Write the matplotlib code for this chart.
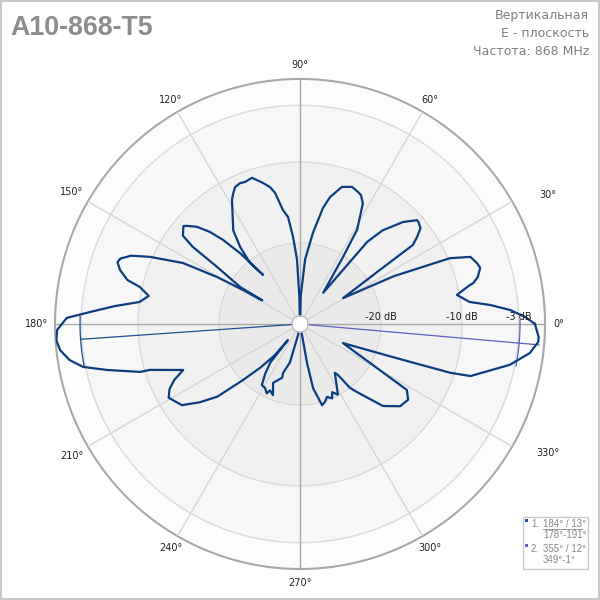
import numpy as np
import matplotlib.pyplot as plt
from matplotlib.patches import Rectangle
from matplotlib.lines import Line2D
import matplotlib.transforms as mtransforms

# диаграмма направленности: угол (град) и уровень (дБ), в порядке обхода контура
angles = [0.0, 1.8, 3.8, 5.7, 7.4, 10.5,
          12.9, 13.3, 14.8, 17.3, 19.0, 21.5, 23.7, 27.0, 31.0,
          34.0, 35.0, 36.6, 38.5, 40.8, 41.6, 44.7, 48.6, 50.7, 53.4,
          57.3, 58.8, 60.7, 62.5, 64.7, 66.3, 69.2, 73.0, 76.7, 78.8, 81.9, 85.5, 88.5, 90.0,
          91.5, 92.7, 94.6, 96.4, 98.5, 100.8, 102.4, 104.7, 108.2, 111.2, 113.1, 115.4,
          117.1, 118.7, 121.0, 125.5, 127.9, 129.3, 127.0,
          130.2, 132.5, 134.4, 136.7, 139.1, 140.0, 143.0, 144.3, 145.5, 148.3, 148.0,
          149.2, 150.5, 152.5, 155.9, 158.0, 160.0, 161.3, 163.3, 165.7, 167.0, 169.5,
          172.2, 174.5, 176.7, 178.5, 181.4, 183.8, 186.2, 188.9, 191.2, 193.4, 196.7,
          197.0, 201.5, 204.0, 206.5, 209.3, 214.5, 218.0, 221.3, 224.5, 227.7, 231.0, 233.0,
          232.4, 235.0, 238.0, 241.3, 244.4, 245.6, 249.2, 245.4, 251.6, 250.9, 255.3, 259.7, 270.0,
          280.2, 281.5, 285.2, 287.8, 290.3, 293.4, 295.2, 298.2, 305.5, 306.7, 308.0, 310.0,
          315.3, 320.6, 325.0, 328.3, 336.0, 340.5, 342.0, 343.0, 349.0, 352.8, 355.7, 356.9, 360.0]
levels = [-1.0, -2.2, -4.0, -6.4, -8.9, -10.3,
          -8.5, -8.0, -7.3, -6.7, -6.9, -7.4, -9.8, -17.0, -23.8,
          -18.4, -13.0, -12.0, -11.0, -10.7, -10.7, -12.1, -14.6, -16.9, -25.2,
          -20.2, -16.4, -14.9, -13.2, -12.4, -12.2, -11.9, -12.3, -13.9, -15.4, -18.6, -22.0, -26.5, -30.0,
          -26.5, -22.0, -19.2, -16.7, -15.8, -13.5, -12.7, -12.0, -11.0, -11.2, -11.1, -11.3,
          -11.9, -12.5, -13.8, -15.8, -18.0, -20.3, -22.4,
          -18.6, -15.9, -14.1, -12.5, -11.5, -11.2, -11.9, -13.7, -17.6, -21.3, -24.5,
          -21.8, -18.2, -13.7, -9.7, -7.5, -6.4, -6.2, -6.8, -8.0, -9.7, -11.0,
          -10.0, -7.0, -4.1, -1.2, 0.0, 0.15, -0.2, -1.2, -2.7, -5.5, -9.4,
          -10.6, -14.5, -13.0, -12.0, -11.4, -12.3, -14.3, -16.4, -20.1, -22.7, -25.0, -27.5,
          -24.0, -22.5, -21.1, -21.0, -20.5, -21.0, -20.6, -22.0, -23.0, -23.6, -25.1, -28.6, -30.0,
          -25.1, -21.9, -19.6, -19.9, -20.4, -20.0, -20.7, -20.1, -22.6, -22.1, -20.0, -19.0,
          -15.6, -14.0, -13.7, -14.5, -24.2, -17.4, -10.5, -8.0, -3.6, -1.4, -0.5, -0.5, -1.0]

# уровни колец (дБ)
rings = [-3, -10, -20]
ring_labels = ['-3 dB', '-10 dB', '-20 dB']
angle_ticks = [0, 30, 60, 90, 120, 150, 180, 210, 240, 270, 300, 330]

# ширина луча по уровню -3 дБ
beam_dirs = [184, 355]
beam_peak = [-2.84, -0.4]
beam_from = [178, 349]
beam_to = [191, 361]
beam_colors = ['#1d4f91', '#5b5fc0']
legend_main = ['184° / 13°', '355° / 12°']
legend_range = ['178°-191°', '349°-1°']

R_MIN, R_MAX = -30, 0.25

fig = plt.figure(figsize=(6, 6), dpi=100)
fig.patch.set_facecolor('white')
ax = fig.add_axes([0.0917, 0.0517, 0.8167, 0.8167], projection='polar')
ax.set_ylim(R_MIN, R_MAX)
ax.set_xticks([])
ax.set_yticks([])
ax.grid(False)
ax.spines['polar'].set_visible(False)
ax.patch.set_alpha(0)

th = np.linspace(0, 2 * np.pi, 721)

# заливка колец
bands = [(R_MAX, -3, '#fcfcfc'), (-3, -10, '#f7f7f7'), (-10, -20, '#f1f1f1'), (-20, R_MIN, '#eaeaea')]
for hi, lo, c in bands:
    ax.fill_between(th, lo, hi, color=c, lw=0, zorder=0)

for r in rings:
    ax.plot(th, np.full_like(th, r), color='#dadada', lw=1, zorder=1)
ax.plot(th, np.full_like(th, R_MAX), color='#a8a8a8', lw=1.5, zorder=1, clip_on=False)

# радиальные линии
for a in angle_ticks:
    c = '#a9a9a9' if a % 90 == 0 else '#d6d6d6'
    ax.plot([np.deg2rad(a)] * 2, [R_MIN, R_MAX], color=c, lw=1, zorder=1)

# подписи углов
for a in angle_ticks:
    la = a
    rl = 1.7
    if a in (30, 330):
        la = a - 2.5 if a == 30 else a + 2.5
        rl = 4.3
    elif a in (150, 180, 210):
        rl = 2.3
    ax.text(np.deg2rad(la), R_MAX + rl, f'{a}°', ha='center', va='center',
            fontsize=7, color='#222222', clip_on=False)

# подписи уровней
off = mtransforms.offset_copy(ax.transData, fig=fig, x=0, y=2, units='dots')
for r, s in zip(rings, ring_labels):
    ax.text(0, r, s, ha='center', va='bottom', fontsize=7, color='#222222',
            transform=off, zorder=5)

# центр
ax.fill_between(th, R_MIN, -29.0, color='white', lw=0, zorder=6)
ax.plot(th, np.full_like(th, -29.0), color='#bcbcbc', lw=1, zorder=6)

# маркеры -3 дБ
for d, pk, a0, a1, c in zip(beam_dirs, beam_peak, beam_from, beam_to, beam_colors):
    ax.plot([np.deg2rad(d)] * 2, [R_MIN, pk], color=c, lw=0.9, zorder=3)
    arc = np.deg2rad(np.linspace(a0, a1, 50))
    ax.plot(arc, np.full_like(arc, -2.84), color=c, lw=0.9, zorder=3)

# диаграмма
ax.plot(np.deg2rad(angles), levels, color='#0b3d7f', lw=1.6, zorder=4)

# заголовки
def px(x):
    return x / 600

def py(y):
    return 1 - y / 600

fig.text(px(10), py(35), 'A10-868-T5', fontsize=19.3, fontweight='bold',
         family='Liberation Sans', color='#8c8c8c')
for y, s in zip([19.5, 37, 55], ['Вертикальная', 'E - плоскость', 'Частота: 868 MHz']):
    fig.text(px(589), py(y), s, ha='right', va='baseline', fontsize=9, color='#808080')

# легенда
fig.add_artist(Rectangle((px(523), py(569)), px(65), 52 / 600, transform=fig.transFigure,
                         facecolor='white', edgecolor='#c8c8c8', lw=1))
for i in range(2):
    y0 = 527 + 25 * i
    fig.add_artist(Rectangle((px(525), py(y0 - 5)), 3 / 600, 3 / 600, transform=fig.transFigure,
                             facecolor=beam_colors[i], edgecolor='none'))
    fig.text(px(531), py(y0), f'{i + 1}.', fontsize=7, color='#888888', va='baseline',
             family='Liberation Sans')
    fig.text(px(543), py(y0), legend_main[i], fontsize=7, color='#888888', va='baseline',
             family='Liberation Sans')
    fig.text(px(543), py(y0 + 11), legend_range[i], fontsize=7, color='#888888', va='baseline',
             family='Liberation Sans')
fig.add_artist(Line2D([px(543), px(582)], [py(529), py(529)], transform=fig.transFigure,
                      color='#888888', lw=0.6))

# рамка
fig.add_artist(Rectangle((0.001, 0.001), 0.997, 0.997, transform=fig.transFigure,
                         facecolor='none', edgecolor='#c8c8c8', lw=1.5))

fig.savefig('out.png', dpi=100)
